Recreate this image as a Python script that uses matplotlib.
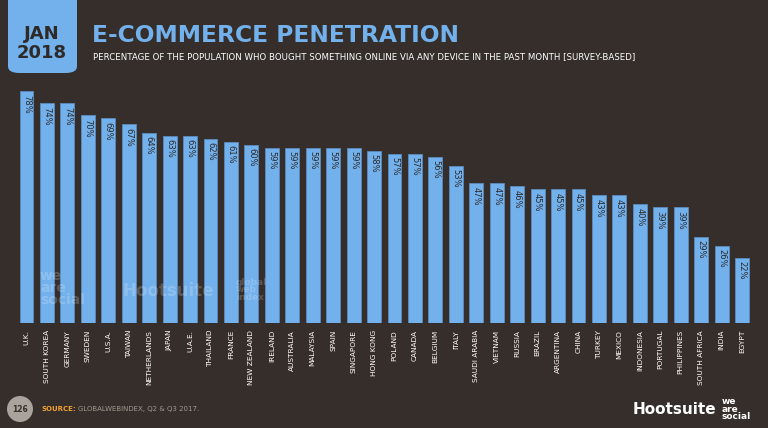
import matplotlib.pyplot as plt
from matplotlib.patches import FancyBboxPatch, Ellipse

countries = ['U.K.', 'SOUTH KOREA', 'GERMANY', 'SWEDEN', 'U.S.A.', 'TAIWAN', 'NETHERLANDS',
             'JAPAN', 'U.A.E.', 'THAILAND', 'FRANCE', 'NEW ZEALAND', 'IRELAND', 'AUSTRALIA',
             'MALAYSIA', 'SPAIN', 'SINGAPORE', 'HONG KONG', 'POLAND', 'CANADA', 'BELGIUM',
             'ITALY', 'SAUDI ARABIA', 'VIETNAM', 'RUSSIA', 'BRAZIL', 'ARGENTINA', 'CHINA',
             'TURKEY', 'MEXICO', 'INDONESIA', 'PORTUGAL', 'PHILIPPINES', 'SOUTH AFRICA',
             'INDIA', 'EGYPT']
penetration = [78, 74, 74, 70, 69, 67, 64, 63, 63, 62, 61, 60, 59, 59, 59, 59, 59, 58,
               57, 57, 56, 53, 47, 47, 46, 45, 45, 45, 43, 43, 40, 39, 39, 29, 26, 22]

bg = '#352e2a'
blue = '#72b1ec'
dark = '#2e2a28'
narrow = ['Liberation Sans Narrow', 'DejaVu Sans']

fig = plt.figure(figsize=(7.68, 4.28), dpi=100, facecolor=bg)
ax = fig.add_axes([0.0212, 0.2453, 0.9583, 0.5552])
ax.set_facecolor(bg)

x = list(range(len(countries)))
ax.bar(x, penetration, width=0.68, color=blue, edgecolor='#5a8cc0', linewidth=0.6)
ax.set_xlim(-0.5, len(countries) - 0.5)
ax.set_ylim(0, 80)
for s in ax.spines.values():
    s.set_visible(False)
ax.set_yticks([])
ax.set_xticks(x)
ax.set_xticklabels(countries, rotation=90, color='white', fontsize=5.3, family=narrow)
ax.tick_params(axis='x', length=0, pad=5)

for xi, v in zip(x, penetration):
    ax.text(xi, v - 1.2, f'{v}%', rotation=-90, ha='center', va='top',
            fontsize=6, color=dark, family=narrow)

# faint watermarks over the first bars
wm = dict(color='white', alpha=0.2, fontweight='bold', va='center', zorder=0)
fig.text(40 / 768, 1 - 288 / 428, 'we\nare\nsocial', fontsize=10, linespacing=0.8, **wm)
fig.text(123 / 768, 1 - 291 / 428, 'Hootsuite', fontsize=12, **wm)
fig.text(236 / 768, 1 - 290 / 428, 'global\nweb\nindex', fontsize=6.5, linespacing=0.85, **wm)

# header
box = FancyBboxPatch((8 / 768, 1 - 73 / 428), 69 / 768, 90 / 428,
                     boxstyle='round,pad=0,rounding_size=0.015', transform=fig.transFigure,
                     facecolor=blue, edgecolor='none')
fig.patches.append(box)
fig.text(42 / 768, 1 - 34 / 428, 'JAN', ha='center', va='center', fontsize=13,
         fontweight='bold', color=dark)
fig.text(42 / 768, 1 - 53 / 428, '2018', ha='center', va='center', fontsize=13,
         fontweight='bold', color=dark)
fig.text(92 / 768, 1 - 36 / 428, 'E-COMMERCE PENETRATION', ha='left', va='center',
         fontsize=16.8, fontweight='bold', color=blue)
fig.text(93 / 768, 1 - 57 / 428,
         'PERCENTAGE OF THE POPULATION WHO BOUGHT SOMETHING ONLINE VIA ANY DEVICE IN THE PAST MONTH [SURVEY-BASED]',
         ha='left', va='center', fontsize=6.25, color='white', family=narrow)

# footer
fig.patches.append(Ellipse((20 / 768, 1 - 409 / 428), 26 / 768, 26 / 428,
                           transform=fig.transFigure, facecolor='#aaa29c', edgecolor='none'))
fig.text(20 / 768, 1 - 409 / 428, '126', ha='center', va='center', fontsize=5.5,
         color=bg, fontweight='bold')
src = fig.text(41 / 768, 1 - 409 / 428, 'SOURCE:', ha='left', va='center', fontsize=5,
               color='#f0a030', fontweight='bold', family=narrow)
fig.text(0, 0, '')
ax.annotate('GLOBALWEBINDEX, Q2 & Q3 2017.', xy=(1, 0.5), xycoords=src,
            xytext=(2, 0), textcoords='offset points', ha='left', va='center',
            fontsize=5, color='#a09890', family=narrow, annotation_clip=False)
fig.text(633 / 768, 1 - 409 / 428, 'Hootsuite', ha='left', va='center', fontsize=11,
         fontweight='bold', color='white')
fig.text(722 / 768, 1 - 409 / 428, 'we\nare\nsocial', ha='left', va='center', fontsize=6.5,
         fontweight='bold', color='white', linespacing=0.8)

fig.savefig('out.png', dpi=100, facecolor=bg)
